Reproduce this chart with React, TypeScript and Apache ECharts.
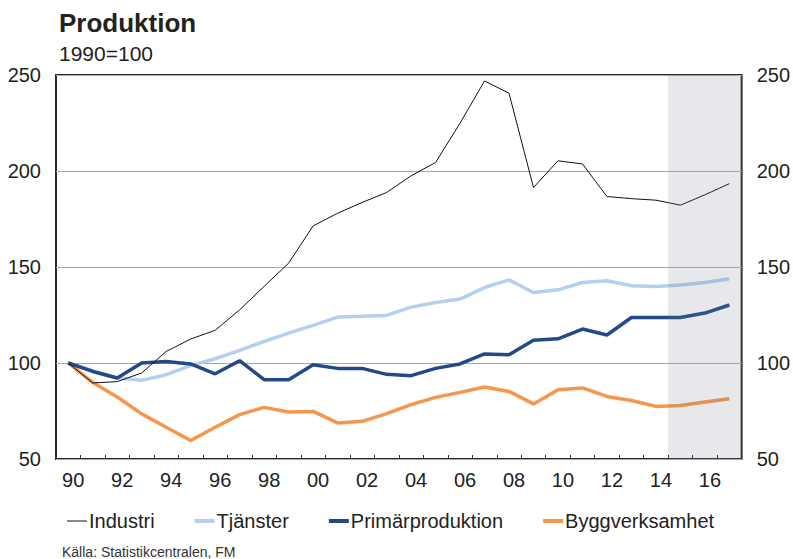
import React, { useEffect, useRef } from "react";
import * as echarts from "echarts";

const years = [
  "1990", "1991", "1992", "1993", "1994", "1995", "1996", "1997", "1998", "1999",
  "2000", "2001", "2002", "2003", "2004", "2005", "2006", "2007", "2008", "2009",
  "2010", "2011", "2012", "2013", "2014", "2015", "2016", "2017",
];

const industri = [
  100, 89.6, 90.3, 94.8, 106, 112.5, 117, 127.7, 139.9, 152,
  171.4, 178, 183.6, 188.8, 197.5, 204.4, 224.9, 246.9, 240.5, 191.4,
  205.3, 203.7, 186.7, 185.6, 184.8, 182.2, 187.6, 193.4,
];
const tjanster = [
  100, 96, 92.2, 91, 93.9, 98.6, 102.2, 106.6, 111.2, 115.6,
  119.6, 123.9, 124.3, 124.8, 129.1, 131.5, 133.3, 139.3, 143.3, 136.7,
  138.1, 141.9, 142.8, 140.2, 139.9, 140.6, 141.9, 143.9,
];
const primar = [
  100, 95.6, 92.2, 100, 100.8, 99.5, 94.4, 101.2, 91.3, 91.3,
  99.1, 97.2, 97.2, 94.1, 93.4, 97.2, 99.5, 104.7, 104.3, 111.9,
  112.6, 117.7, 114.6, 123.7, 123.7, 123.7, 126, 130.2,
];
const bygg = [
  100, 89.9, 82.3, 73.5, 66.5, 59.6, 66.5, 73.1, 76.9, 74.5,
  74.8, 68.8, 69.6, 73.6, 78.3, 82.1, 84.7, 87.5, 85.2, 78.7,
  86.1, 87, 82.6, 80.5, 77.4, 77.9, 79.7, 81.4,
];

const forecastStartIndex = 25; // 2015
const seriesNames = ["Industri", "Tjänster", "Primärproduktion", "Byggverksamhet"];

export default function App() {
  const ref = useRef<HTMLDivElement>(null);

  useEffect(() => {
    if (!ref.current) return;
    const chart = echarts.init(ref.current, null, { renderer: "svg" });
    const font = "Liberation Sans, Arial, sans-serif";
    const axisLabelBase = { color: "#222", fontSize: 20, fontFamily: font };
    const yAxisBase = {
      type: "value",
      min: 50,
      max: 250,
      interval: 50,
      axisLine: { show: false },
      axisTick: { show: false },
      splitLine: { show: true, lineStyle: { color: "#a8a8a8", width: 1 } },
      axisLabel: { ...axisLabelBase, margin: 15 },
    };
    const thinIcon = "path://M0,0H20V1H0Z";
    const thickIcon = "path://M0,0H20V4H0Z";
    chart.setOption({
      animation: false,
      backgroundColor: "#fff",
      textStyle: { fontFamily: font },
      grid: {
        left: 56,
        right: 47,
        top: 75,
        bottom: 100,
        show: true,
        borderColor: "#2a2a2a",
        borderWidth: 2,
        containLabel: false,
      },
      graphic: [
        {
          type: "text",
          left: 59,
          top: 10,
          style: { text: "Produktion", fill: "#222", font: `bold 26px ${font}` },
        },
        {
          type: "text",
          left: 59,
          top: 43,
          style: { text: "1990=100", fill: "#222", font: `21px ${font}` },
        },
        {
          type: "text",
          left: 62,
          top: 545,
          style: { text: "Källa: Statistikcentralen, FM", fill: "#333", font: `14px ${font}` },
        },
      ],
      legend: {
        left: 62,
        top: 506,
        itemWidth: 20,
        itemHeight: 12,
        itemGap: 40,
        textStyle: { color: "#222", fontSize: 20, fontFamily: font, padding: [0, 0, 0, -3] },
        data: seriesNames.map((n, i) => ({ name: n, icon: i === 0 ? thinIcon : thickIcon })),
      },
      xAxis: [
        {
          type: "category",
          data: years,
          boundaryGap: true,
          axisLine: { show: false },
          axisTick: {
            show: true,
            inside: true,
            length: 4,
            interval: 0,
            lineStyle: { color: "#2a2a2a", width: 1 },
          },
          axisLabel: {
            ...axisLabelBase,
            interval: 1,
            margin: 11,
            padding: [0, 0, 0, 10],
            formatter: (v: string) => v.slice(2),
          },
          splitLine: { show: false },
        },
        {
          type: "value",
          min: 0,
          max: years.length,
          show: false,
          gridIndex: 0,
        },
      ],
      yAxis: [
        { ...yAxisBase, position: "left" },
        { ...yAxisBase, position: "right" },
      ],
      series: [
        {
          name: "Industri",
          type: "line",
          data: industri,
          symbol: "none",
          lineStyle: { color: "#111", width: 1 },
          itemStyle: { color: "#111" },
          z: 4,
        },
        {
          name: "Tjänster",
          type: "line",
          data: tjanster,
          symbol: "none",
          lineStyle: { color: "#b5cfee", width: 3.5 },
          itemStyle: { color: "#b5cfee" },
          z: 2,
        },
        {
          name: "Primärproduktion",
          type: "line",
          data: primar,
          symbol: "none",
          lineStyle: { color: "#234a86", width: 3.5 },
          itemStyle: { color: "#234a86" },
          z: 3,
        },
        {
          name: "Byggverksamhet",
          type: "line",
          data: bygg,
          symbol: "none",
          lineStyle: { color: "#f7964a", width: 3.5 },
          itemStyle: { color: "#f7964a" },
          z: 2,
        },
        {
          name: "forecast",
          type: "line",
          xAxisIndex: 1,
          yAxisIndex: 0,
          data: [],
          symbol: "none",
          silent: true,
          markArea: {
            silent: true,
            z: 10,
            itemStyle: { color: "rgba(120,126,142,0.18)" },
            data: [[{ xAxis: forecastStartIndex }, { xAxis: years.length }]],
          },
        },
      ],
    });
    return () => chart.dispose();
  }, []);

  return (
    <div
      ref={ref}
      style={{ position: "fixed", left: 0, top: 0, width: 793, height: 559 }}
    />
  );
}
